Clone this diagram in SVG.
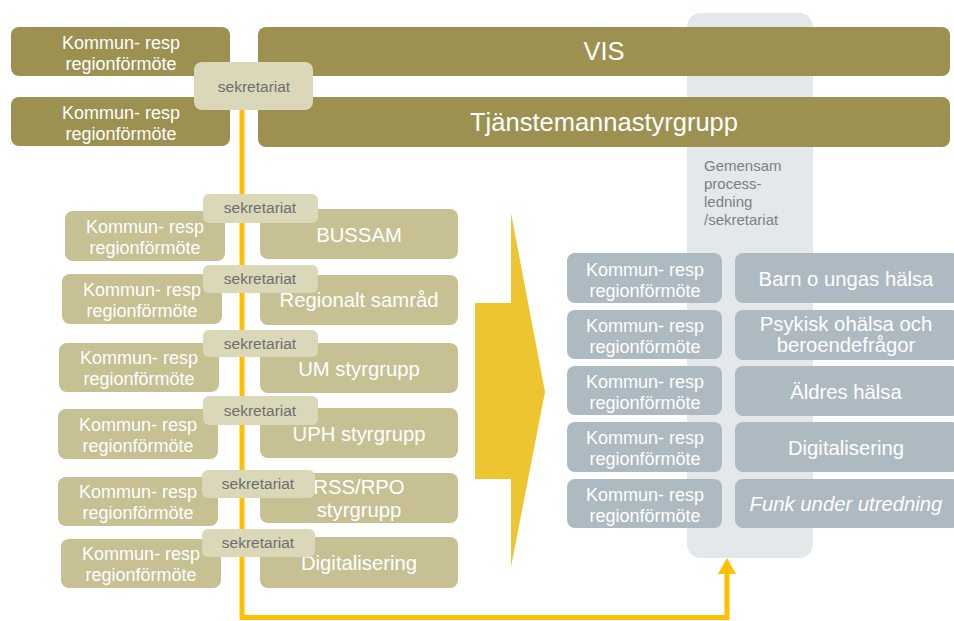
<svg xmlns="http://www.w3.org/2000/svg" width="954" height="621" viewBox="0 0 954 621">
<defs>
<style>
text{font-family:"Liberation Sans",Arial,sans-serif;text-anchor:middle}
.dk{fill:#9c9150}
.lt{fill:#c6c093}
.sek{fill:#dad8b9}
.gr{fill:#adbac1}
.km{font-size:18px;fill:#ffffff}
.big{font-size:25.5px;fill:#ffffff}
.mid{font-size:20.3px;fill:#ffffff}
.st{font-size:15.5px;fill:#6e6e6e}
.col{text-anchor:start;font-size:15px;fill:#7f7f7f}
</style>
</defs>
<rect x="0" y="0" width="954" height="621" fill="#ffffff"/>

<g id="column">
<rect x="687" y="13" width="126" height="545" rx="14" fill="#e3e8eb"/>
<text class="col" x="704" y="171">Gemensam</text>
<text class="col" x="704" y="189">process-</text>
<text class="col" x="704" y="207">ledning</text>
<text class="col" x="704" y="225">/sekretariat</text>
</g>

<g id="big-arrow">
<path d="M475,303 L511,303 L511,213 L545,392 L511,567 L511,479 L475,479 Z" fill="#ecc530"/>
</g>

<g id="connectors">
<polyline points="242,110 242,617.5 727,617.5 727,574" fill="none" stroke="#ffc000" stroke-width="5"/>
<path d="M718,574 L727,558 L736,574 Z" fill="#ffc000"/>
</g>

<g id="vis">
<rect class="dk" x="258" y="27" width="692" height="49" rx="8"/>
<text class="big" x="604" y="60">VIS</text>
</g>
<g id="tjanstemannastyrgrupp">
<rect class="dk" x="258" y="97" width="692" height="50" rx="8"/>
<text class="big" x="604" y="131">Tjänstemannastyrgrupp</text>
</g>
<g id="top-kommun-1">
<rect class="dk" x="11" y="27" width="219" height="49" rx="8"/>
<text class="km" x="121" y="49">Kommun- resp</text>
<text class="km" x="121" y="70">regionförmöte</text>
</g>
<g id="top-kommun-2">
<rect class="dk" x="11" y="97" width="219" height="49" rx="8"/>
<text class="km" x="121" y="119">Kommun- resp</text>
<text class="km" x="121" y="140">regionförmöte</text>
</g>
<g id="top-sekretariat">
<rect class="sek" x="194" y="62" width="119" height="48" rx="8"/>
<text class="st" x="254" y="92">sekretariat</text>
</g>

<g id="row1-kommun"><rect class="lt" x="65" y="211" width="160" height="50" rx="8"/>
<text class="km" x="145" y="233">Kommun- resp</text><text class="km" x="145" y="254">regionförmöte</text></g>
<g id="row1-bussam"><rect class="lt" x="260" y="209" width="198" height="50" rx="8"/>
<text class="mid" x="359" y="242">BUSSAM</text></g>
<g id="row1-sek"><rect class="sek" x="203" y="194" width="115" height="29" rx="6"/>
<text class="st" x="260" y="213">sekretariat</text></g>

<g id="row2-kommun"><rect class="lt" x="62" y="274" width="160" height="50" rx="8"/>
<text class="km" x="142" y="296">Kommun- resp</text><text class="km" x="142" y="317">regionförmöte</text></g>
<g id="row2-regionalt"><rect class="lt" x="260" y="275" width="198" height="50" rx="8"/>
<text class="mid" x="359" y="307">Regionalt samråd</text></g>
<g id="row2-sek"><rect class="sek" x="203" y="265" width="115" height="28" rx="6"/>
<text class="st" x="260" y="284">sekretariat</text></g>

<g id="row3-kommun"><rect class="lt" x="59" y="343" width="160" height="49" rx="8"/>
<text class="km" x="139" y="364">Kommun- resp</text><text class="km" x="139" y="385">regionförmöte</text></g>
<g id="row3-um"><rect class="lt" x="260" y="343" width="198" height="50" rx="8"/>
<text class="mid" x="359" y="376">UM styrgrupp</text></g>
<g id="row3-sek"><rect class="sek" x="203" y="330" width="115" height="27" rx="6"/>
<text class="st" x="260" y="349">sekretariat</text></g>

<g id="row4-kommun"><rect class="lt" x="58" y="409" width="160" height="50" rx="8"/>
<text class="km" x="138" y="431">Kommun- resp</text><text class="km" x="138" y="452">regionförmöte</text></g>
<g id="row4-uph"><rect class="lt" x="260" y="408" width="198" height="50" rx="8"/>
<text class="mid" x="359" y="441">UPH styrgrupp</text></g>
<g id="row4-sek"><rect class="sek" x="203" y="396" width="115" height="29" rx="6"/>
<text class="st" x="260" y="416">sekretariat</text></g>

<g id="row5-kommun"><rect class="lt" x="58" y="477" width="160" height="49" rx="8"/>
<text class="km" x="138" y="498">Kommun- resp</text><text class="km" x="138" y="519">regionförmöte</text></g>
<g id="row5-rss"><rect class="lt" x="260" y="473" width="198" height="50" rx="8"/>
<text class="mid" x="359" y="494">RSS/RPO</text><text class="mid" x="359" y="517">styrgrupp</text></g>
<g id="row5-sek"><rect class="sek" x="202" y="470" width="113" height="28" rx="6"/>
<text class="st" x="258" y="489">sekretariat</text></g>

<g id="row6-kommun"><rect class="lt" x="61" y="539" width="160" height="49" rx="8"/>
<text class="km" x="141" y="560">Kommun- resp</text><text class="km" x="141" y="581">regionförmöte</text></g>
<g id="row6-digital"><rect class="lt" x="260" y="537" width="198" height="51" rx="8"/>
<text class="mid" x="359" y="570">Digitalisering</text></g>
<g id="row6-sek"><rect class="sek" x="202" y="529" width="113" height="28" rx="6"/>
<text class="st" x="258" y="548">sekretariat</text></g>

<g id="r1-kommun"><rect class="gr" x="567" y="253" width="155" height="50" rx="8"/>
<text class="km" x="645" y="276">Kommun- resp</text><text class="km" x="645" y="297">regionförmöte</text></g>
<g id="r1-barn"><rect class="gr" x="735" y="253" width="225" height="50" rx="8"/>
<text class="mid" x="846" y="286">Barn o ungas hälsa</text></g>

<g id="r2-kommun"><rect class="gr" x="567" y="310" width="155" height="49" rx="8"/>
<text class="km" x="645" y="332">Kommun- resp</text><text class="km" x="645" y="353">regionförmöte</text></g>
<g id="r2-psykisk"><rect class="gr" x="735" y="310" width="225" height="50" rx="8"/>
<text class="mid" x="846" y="331">Psykisk ohälsa och</text><text class="mid" x="846" y="352">beroendefrågor</text></g>

<g id="r3-kommun"><rect class="gr" x="567" y="366" width="155" height="49" rx="8"/>
<text class="km" x="645" y="388">Kommun- resp</text><text class="km" x="645" y="409">regionförmöte</text></g>
<g id="r3-aldres"><rect class="gr" x="735" y="366" width="225" height="50" rx="8"/>
<text class="mid" x="846" y="399">Äldres hälsa</text></g>

<g id="r4-kommun"><rect class="gr" x="567" y="422" width="155" height="50" rx="8"/>
<text class="km" x="645" y="444">Kommun- resp</text><text class="km" x="645" y="465">regionförmöte</text></g>
<g id="r4-digital"><rect class="gr" x="735" y="422" width="225" height="50" rx="8"/>
<text class="mid" x="846" y="455">Digitalisering</text></g>

<g id="r5-kommun"><rect class="gr" x="567" y="479" width="155" height="49" rx="8"/>
<text class="km" x="645" y="501">Kommun- resp</text><text class="km" x="645" y="522">regionförmöte</text></g>
<g id="r5-funk"><rect class="gr" x="735" y="479" width="225" height="49" rx="8"/>
<text class="mid" x="846" y="511" style="font-style:italic">Funk under utredning</text></g>
</svg>
